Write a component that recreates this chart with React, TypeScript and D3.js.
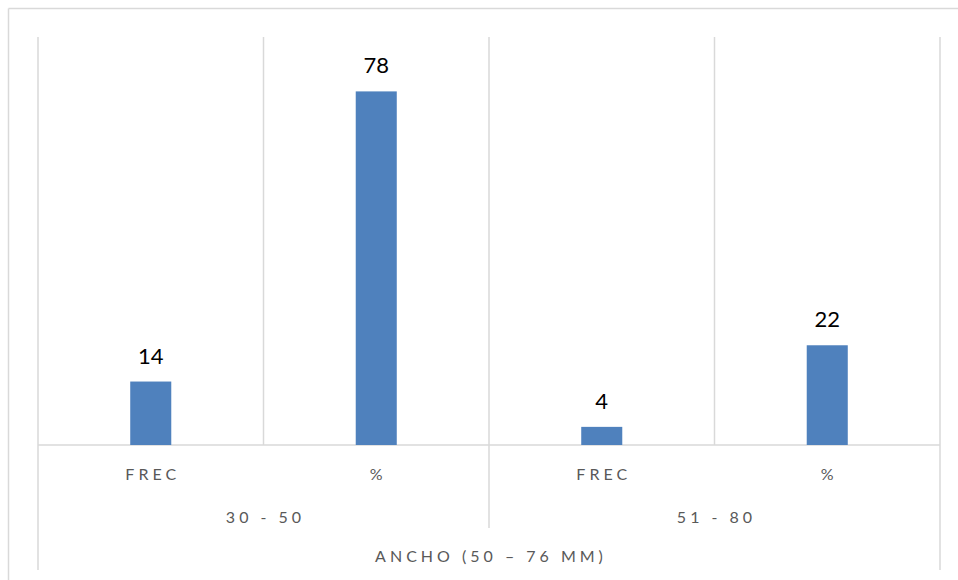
import React from "react";
import * as d3 from "d3";

// Leaf categories (sub-labels), their group, and values
const leafLabels = ["FREC", "%", "FREC", "%"];
const groupLabels = ["30 - 50", "51 - 80"];
const values = [14, 78, 4, 22];
const axisTitle = "ANCHO (50 – 76 MM)";
const yMax = 90;

const W = 958;
const H = 580;
const plot = { left: 38, right: 940, top: 37, bottom: 445 };
const gridColor = "#d9d9d9";
const barColor = "#4f81bd";
const textColor = "#595959";
const font = "Lato, 'Open Sans', sans-serif";

export default function App() {
  const leafIds = leafLabels.map((_, i) => String(i));
  const x = d3.scaleBand<string>().domain(leafIds).range([plot.left, plot.right]).padding(0);
  const gx = d3.scaleBand<string>().domain(groupLabels).range([plot.left, plot.right]).padding(0);
  const y = d3.scaleLinear().domain([0, yMax]).range([plot.bottom, plot.top]);
  const bw = x.bandwidth();
  const barW = bw * 0.182;

  // vertical gridlines at band edges (plot area)
  const edges = leafIds.map((id) => x(id)!).concat([plot.right]);

  return (
    <svg width={W} height={H} style={{ position: "absolute", left: 0, top: 0 }}>
      <rect x={0} y={0} width={W} height={H} fill="#fff" />
      {/* chart frame */}
      <line x1={8.5} x2={W} y1={8.5} y2={8.5} stroke={gridColor} strokeWidth={1.5} />
      <line x1={8.5} x2={8.5} y1={8.5} y2={H} stroke={gridColor} strokeWidth={1.5} />

      {/* gridlines */}
      {edges.map((ex, i) => (
        <line key={"g" + i} x1={ex} x2={ex} y1={plot.top} y2={plot.bottom} stroke={gridColor} strokeWidth={1.5} />
      ))}
      {/* baseline */}
      <line x1={plot.left} x2={plot.right} y1={plot.bottom} y2={plot.bottom} stroke={gridColor} strokeWidth={1.5} />

      {/* category axis separators */}
      <line x1={plot.left} x2={plot.left} y1={plot.bottom} y2={570} stroke={gridColor} strokeWidth={1.5} />
      <line x1={plot.right} x2={plot.right} y1={plot.bottom} y2={570} stroke={gridColor} strokeWidth={1.5} />
      {groupLabels.slice(1).map((g) => (
        <line key={"s" + g} x1={gx(g)!} x2={gx(g)!} y1={plot.bottom} y2={528} stroke={gridColor} strokeWidth={1.5} />
      ))}

      {/* bars */}
      {values.map((v, i) => (
        <rect
          key={"b" + i}
          x={x(leafIds[i])! + (bw - barW) / 2}
          y={y(v)}
          width={barW}
          height={y(0) - y(v)}
          fill={barColor}
        />
      ))}

      {/* value labels */}
      {values.map((v, i) => (
        <text
          key={"v" + i}
          x={x(leafIds[i])! + bw / 2}
          y={y(v) - 18}
          textAnchor="middle"
          fontFamily={font}
          fontSize={22}
          fill="#000"
        >
          {v}
        </text>
      ))}

      {/* leaf labels */}
      {leafLabels.map((l, i) => (
        <text
          key={"l" + i}
          x={x(leafIds[i])! + bw / 2 + 2}
          y={480}
          textAnchor="middle"
          fontFamily={font}
          fontSize={16}
          letterSpacing={4}
          fill={textColor}
        >
          {l}
        </text>
      ))}

      {/* group labels */}
      {groupLabels.map((g) => (
        <text
          key={"gl" + g}
          x={gx(g)! + gx.bandwidth() / 2 + 2}
          y={523}
          textAnchor="middle"
          fontFamily={font}
          fontSize={16}
          letterSpacing={4}
          fill={textColor}
        >
          {g}
        </text>
      ))}

      {/* axis title */}
      <text
        x={(plot.left + plot.right) / 2 + 2}
        y={562}
        textAnchor="middle"
        fontFamily={font}
        fontSize={16}
        letterSpacing={4}
        fill={textColor}
      >
        {axisTitle}
      </text>
    </svg>
  );
}
